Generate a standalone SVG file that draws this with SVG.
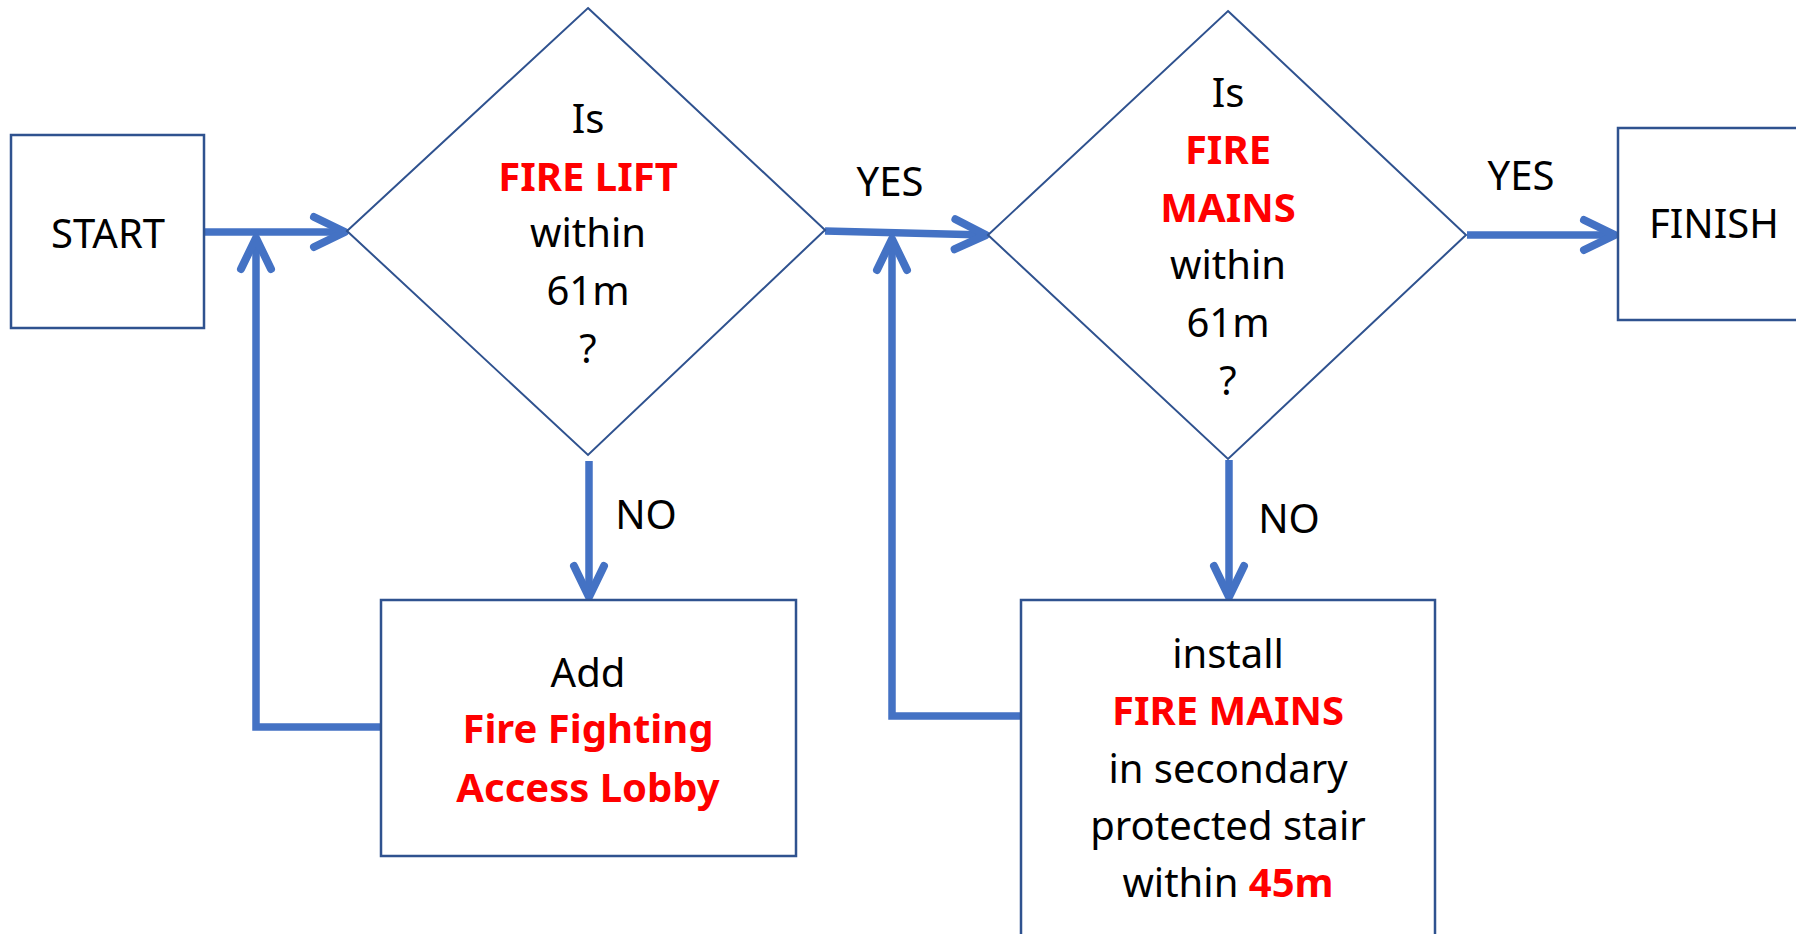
<svg xmlns="http://www.w3.org/2000/svg" width="1796" height="934" viewBox="0 0 1796 934">
<style>
.node{fill:#fff;stroke:#2F528F;stroke-width:2.5}
.dia{fill:#fff;stroke:#2F528F;stroke-width:2}
.conn{fill:none;stroke:#4472C4;stroke-width:7.5}
text{font-family:"Noto Sans","Open Sans","Liberation Sans",sans-serif;font-size:40px;fill:#000;text-anchor:middle}
.red{fill:#FF0000;font-weight:bold}
</style>
<defs>
<marker id="chev" markerUnits="userSpaceOnUse" orient="auto" refX="0" refY="0" markerWidth="80" markerHeight="80" viewBox="-40 -40 80 80" overflow="visible">
<path d="M-31,-15 L0,0 L-31,15" fill="none" stroke="#4472C4" stroke-width="8" stroke-linecap="round" stroke-linejoin="round"/>
</marker>
</defs>
<rect width="1796" height="934" fill="#fff"/>
<g id="connectors">
<path class="conn" d="M204,232 L345,232" marker-end="url(#chev)"/>
<path class="conn" d="M381,727 L256,727 L256,238" marker-end="url(#chev)"/>
<path class="conn" d="M589,461 L589,597" marker-end="url(#chev)"/>
<path class="conn" d="M825,231 L986,235" marker-end="url(#chev)"/>
<path class="conn" d="M1027,716 L892,716 L892,239" marker-end="url(#chev)"/>
<path class="conn" d="M1229,460 L1229,597" marker-end="url(#chev)"/>
<path class="conn" d="M1467,235 L1615,235" marker-end="url(#chev)"/>
</g>
<g id="start">
<rect class="node" x="11" y="135" width="193" height="193"/>
<text x="108" y="248">START</text>
</g>
<g id="decision-lift">
<polygon class="dia" points="588,8 825,230 588,455 347,231"/>
<text x="588" y="133">Is</text>
<text x="588" y="191" class="red">FIRE LIFT</text>
<text x="588" y="247">within</text>
<text x="588" y="305">61m</text>
<text x="588" y="363">?</text>
</g>
<g id="decision-mains">
<polygon class="dia" points="1228,11 1466,235 1228,459 988,235"/>
<text x="1228" y="107">Is</text>
<text x="1228" y="164" class="red">FIRE</text>
<text x="1228" y="222" class="red">MAINS</text>
<text x="1228" y="279">within</text>
<text x="1228" y="337">61m</text>
<text x="1228" y="395">?</text>
</g>
<g id="finish">
<rect class="node" x="1618" y="128" width="192" height="192"/>
<text x="1714" y="238">FINISH</text>
</g>
<g id="add-lobby">
<rect class="node" x="381" y="600" width="415" height="256"/>
<text x="588" y="687">Add</text>
<text x="588" y="743" class="red">Fire Fighting</text>
<text x="588" y="802" class="red">Access Lobby</text>
</g>
<g id="install-mains">
<rect class="node" x="1021" y="600" width="414" height="400"/>
<text x="1228" y="668">install</text>
<text x="1228" y="725" class="red">FIRE MAINS</text>
<text x="1228" y="783">in secondary</text>
<text x="1228" y="840">protected stair</text>
<text x="1228" y="897">within <tspan class="red">45m</tspan></text>
</g>
<g id="labels">
<text x="890" y="196">YES</text>
<text x="1521" y="190">YES</text>
<text x="646" y="529">NO</text>
<text x="1289" y="533">NO</text>
</g>
</svg>
